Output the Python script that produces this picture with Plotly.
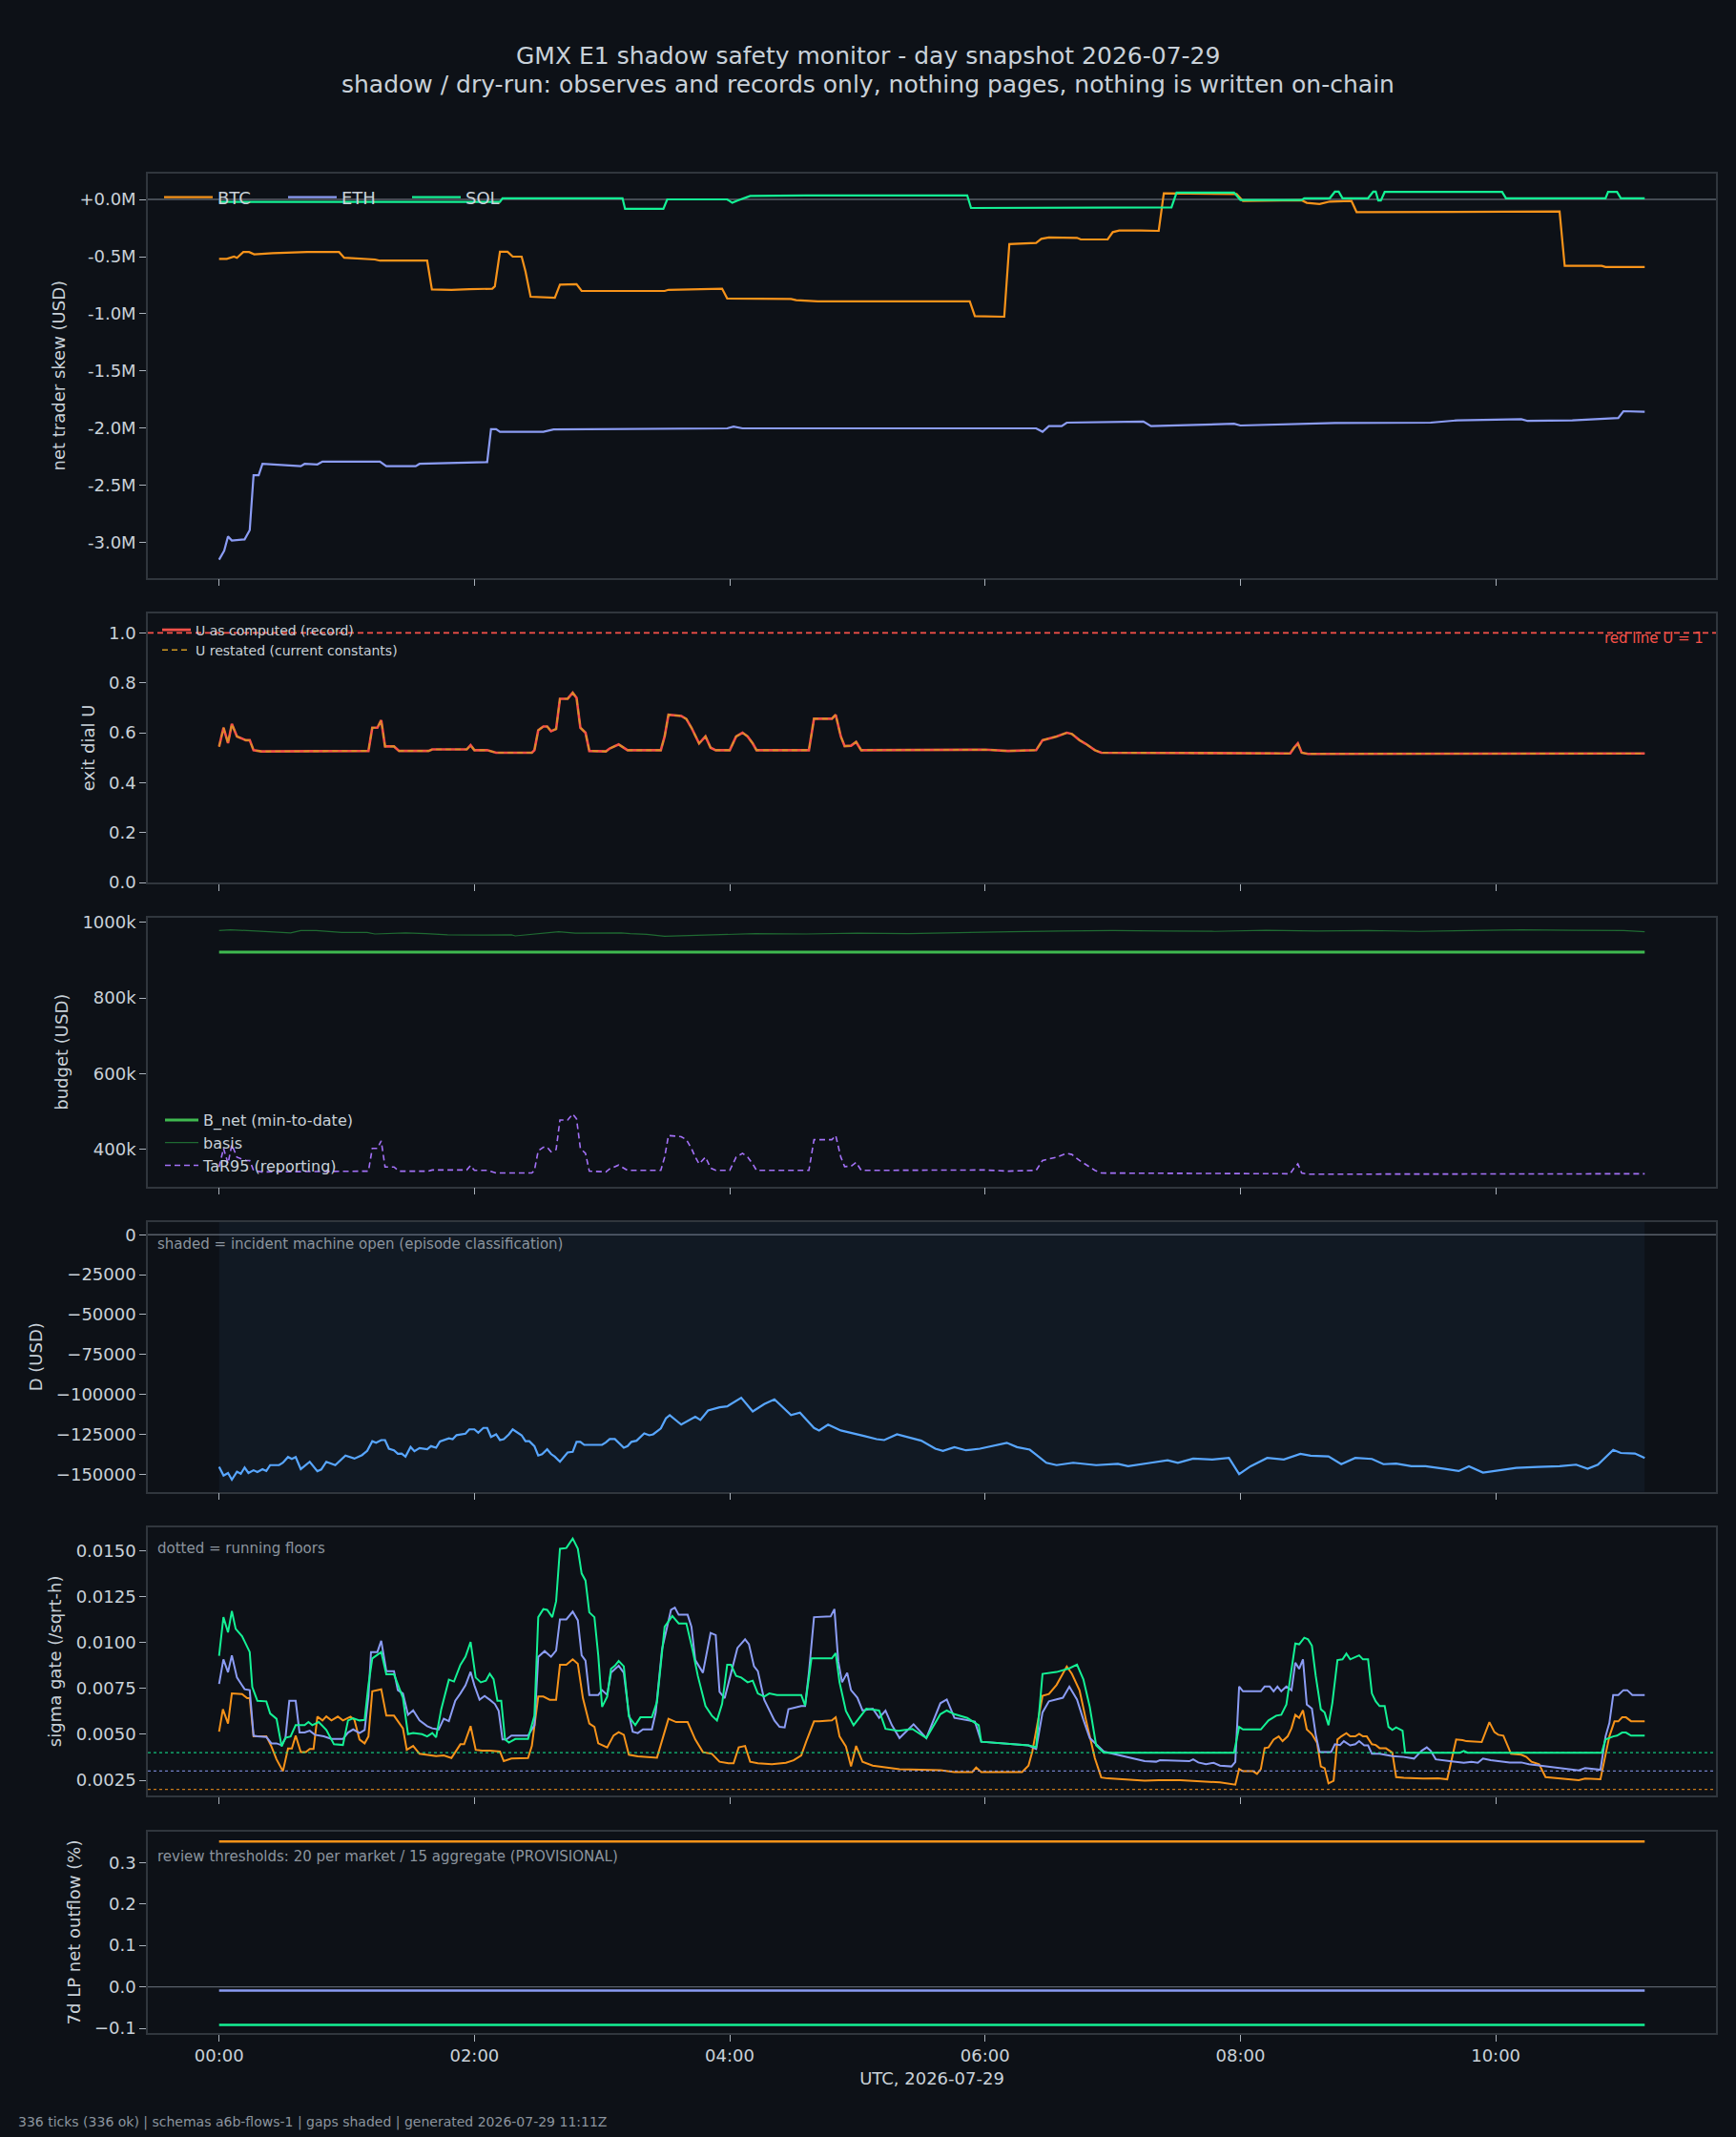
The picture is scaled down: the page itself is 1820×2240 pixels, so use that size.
import plotly.graph_objects as go

# ---------------------------------------------------------------- text
TITLE_1 = "GMX E1 shadow safety monitor - day snapshot 2026-07-29"
TITLE_2 = "shadow / dry-run: observes and records only, nothing pages, nothing is written on-chain"
FOOTER = "336 ticks (336 ok) | schemas a6b-flows-1 | gaps shaded | generated 2026-07-29 11:11Z"
X_TITLE = "UTC, 2026-07-29"
X_TICK_HOURS = [0, 2, 4, 6, 8, 10]
X_TICK_LABELS = ["00:00", "02:00", "04:00", "06:00", "08:00", "10:00"]
RUN_WINDOW_H = [0.0, 11.1667]          # first and last tick (hours UTC)

# ---------------------------------------------------------------- panel 1: net trader skew (USD millions)
SKEW_BTC_T = [0, 0.06, 0.117, 0.14, 0.19, 0.235, 0.275, 0.42, 0.69, 0.94, 0.98, 1.22, 1.26, 1.63, 1.667, 1.82,
              1.96, 2.14, 2.16, 2.20, 2.26, 2.30, 2.37, 2.40, 2.44, 2.55, 2.63, 2.67, 2.80, 2.84, 3.49, 3.52,
              3.94, 3.98, 4.48, 4.52, 4.69, 5.88, 5.92, 6.15, 6.19, 6.40, 6.44, 6.50, 6.72, 6.75, 6.96, 7.0,
              7.05, 7.22, 7.36, 7.40, 7.97, 8.02, 8.20, 8.48, 8.52, 8.62, 8.70, 8.87, 8.91, 9.67, 9.91, 10.50,
              10.54, 10.83, 10.86, 11.1667]
SKEW_BTC_V = [-0.52, -0.52, -0.50, -0.51, -0.46, -0.46, -0.48, -0.47, -0.46, -0.46, -0.51, -0.525, -0.535, -0.535,
              -0.786, -0.79, -0.785, -0.78, -0.76, -0.458, -0.458, -0.50, -0.50, -0.63, -0.85, -0.855, -0.86,
              -0.745, -0.74, -0.80, -0.80, -0.79, -0.78, -0.865, -0.87, -0.88, -0.89, -0.89, -1.02, -1.025,
              -0.39, -0.38, -0.345, -0.333, -0.336, -0.35, -0.35, -0.286, -0.272, -0.272, -0.275, 0.053, 0.047,
              -0.014, -0.014, -0.008, -0.03, -0.04, -0.019, -0.014, -0.111, -0.111, -0.106, -0.106, -0.58, -0.58,
              -0.59, -0.59]
SKEW_ETH_T = [0, 0.04, 0.07, 0.10, 0.20, 0.24, 0.27, 0.31, 0.34, 0.42, 0.64, 0.67, 0.77, 0.81, 1.26, 1.31, 1.54,
              1.57, 2.10, 2.13, 2.17, 2.20, 2.49, 2.54, 2.62, 3.49, 3.98, 4.03, 4.10, 5.30, 6.40, 6.45, 6.50,
              6.60, 6.64, 7.24, 7.30, 7.95, 8.0, 8.74, 9.13, 9.49, 9.70, 10.20, 10.25, 10.60, 10.96, 11.0, 11.1667]
SKEW_ETH_V = [-3.147, -3.07, -2.945, -2.98, -2.97, -2.89, -2.41, -2.41, -2.31, -2.315, -2.33, -2.31, -2.315, -2.29,
              -2.29, -2.33, -2.33, -2.31, -2.295, -2.008, -2.008, -2.03, -2.03, -2.03, -2.01, -2.0, -2.0, -1.985,
              -2.0, -2.0, -2.0, -2.03, -1.98, -1.98, -1.95, -1.94, -1.98, -1.96, -1.975, -1.953, -1.95, -1.95,
              -1.93, -1.92, -1.935, -1.93, -1.91, -1.85, -1.855]
SKEW_SOL_T = [0, 2.20, 2.22, 3.16, 3.18, 3.48, 3.51, 3.98, 4.02, 4.06, 4.16, 4.60, 5.86, 5.89, 7.46, 7.50, 7.95,
              8.0, 8.48, 8.50, 8.70, 8.74, 8.77, 8.80, 9.0, 9.04, 9.06, 9.08, 9.10, 9.13, 10.05, 10.08, 10.86,
              10.88, 10.95, 10.98, 11.1667]
SKEW_SOL_V = [-0.022, -0.022, 0.01, 0.01, -0.083, -0.083, 0.0, 0.0, -0.03, -0.01, 0.03, 0.035, 0.035, -0.075,
              -0.07, 0.06, 0.06, -0.005, -0.005, 0.01, 0.01, 0.067, 0.067, 0.01, 0.01, 0.067, 0.067, -0.01, -0.01,
              0.065, 0.065, 0.01, 0.01, 0.065, 0.065, 0.01, 0.01]
SKEW_TICKS = [0.0, -0.5, -1.0, -1.5, -2.0, -2.5, -3.0]

# ---------------------------------------------------------------- panel 2: exit dial U
U_T = [0.00, 0.035, 0.07, 0.10, 0.14, 0.21, 0.24, 0.27, 0.33, 1.17, 1.20, 1.24, 1.27, 1.30, 1.37, 1.41, 1.64, 1.67,
       1.94, 1.97, 2.00, 2.10, 2.17, 2.45, 2.47, 2.50, 2.54, 2.57, 2.60, 2.64, 2.67, 2.73, 2.77, 2.80, 2.83, 2.87,
       2.90, 3.03, 3.06, 3.13, 3.20, 3.46, 3.49, 3.52, 3.62, 3.66, 3.70, 3.73, 3.76, 3.81, 3.85, 3.89, 4.00, 4.05,
       4.10, 4.14, 4.18, 4.21, 4.62, 4.66, 4.80, 4.83, 4.87, 4.90, 4.95, 4.99, 5.03, 6.00, 6.18, 6.40, 6.45, 6.56,
       6.64, 6.68, 6.74, 6.79, 6.86, 6.91, 8.39, 8.42, 8.45, 8.48, 8.53, 11.1667]
U_RECORD = [0.544, 0.62, 0.558, 0.635, 0.585, 0.57, 0.57, 0.53, 0.525, 0.527, 0.62, 0.62, 0.65, 0.545, 0.545, 0.527,
            0.527, 0.533, 0.533, 0.55, 0.53, 0.53, 0.52, 0.52, 0.53, 0.61, 0.625, 0.625, 0.606, 0.615, 0.736,
            0.736, 0.76, 0.74, 0.62, 0.60, 0.527, 0.525, 0.537, 0.553, 0.53, 0.53, 0.585, 0.672, 0.667, 0.655,
            0.62, 0.585, 0.557, 0.585, 0.54, 0.53, 0.53, 0.585, 0.60, 0.585, 0.557, 0.53, 0.53, 0.656, 0.656,
            0.672, 0.585, 0.546, 0.548, 0.563, 0.53, 0.532, 0.527, 0.53, 0.57, 0.585, 0.60, 0.595, 0.57, 0.555,
            0.53, 0.52, 0.517, 0.54, 0.557, 0.52, 0.515, 0.517]
U_RESTATED = list(U_RECORD)   # restated series coincides with the record on this day
U_RED_LINE = 1.0

# ---------------------------------------------------------------- panel 3: budget (USD thousands)
BNET_T = [0.0, 11.1667]
BNET_V = [921, 921]
BASIS_T = [0, 0.09, 0.29, 0.56, 0.64, 0.76, 0.96, 1.16, 1.22, 1.46, 1.62, 1.79, 2.06, 2.29, 2.32, 2.45, 2.52, 2.66,
           2.79, 2.95, 3.15, 3.22, 3.35, 3.49, 3.8, 4.2, 4.6, 5.0, 5.4, 5.8, 6.2, 6.6, 7.0, 7.4, 7.8, 8.2, 8.6, 9.0,
           9.4, 9.8, 10.2, 10.6, 11.0, 11.1667]
BASIS_V = [978, 980, 977, 972, 978, 978, 973, 973, 969, 972, 970, 967, 966, 967, 964, 968, 971, 975, 971, 971, 972,
           970, 968, 963, 966, 970, 969, 971, 970, 973, 975, 977, 978, 977, 976, 979, 977, 978, 976, 978, 980, 979,
           978, 975]
TAR_T = list(U_T)
TAR_V = [354, 403, 363, 413, 380, 371, 371, 345, 341, 343, 403, 403, 423, 354, 354, 343, 343, 346, 346, 358, 345, 345,
         338, 338, 345, 397, 406, 406, 394, 400, 478, 478, 494, 481, 403, 390, 343, 341, 349, 359, 345, 345, 380,
         437, 434, 426, 403, 380, 362, 380, 351, 345, 345, 380, 390, 380, 362, 345, 345, 426, 426, 437, 380, 355,
         356, 366, 345, 346, 343, 345, 371, 380, 390, 387, 371, 361, 345, 338, 336, 351, 362, 338, 335, 336]
BUDGET_TICKS = [400, 600, 800, 1000]

# ---------------------------------------------------------------- panel 4: D (USD thousands)
D_T = [0, 0.035, 0.07, 0.10, 0.14, 0.17, 0.20, 0.23, 0.27, 0.30, 0.34, 0.37, 0.40, 0.47, 0.50, 0.54, 0.57, 0.60,
       0.64, 0.71, 0.77, 0.80, 0.84, 0.91, 0.99, 1.06, 1.12, 1.16, 1.20, 1.23, 1.27, 1.30, 1.33, 1.37, 1.40, 1.43,
       1.46, 1.50, 1.53, 1.57, 1.63, 1.66, 1.70, 1.73, 1.80, 1.83, 1.86, 1.93, 1.96, 2.00, 2.03, 2.07, 2.10, 2.13,
       2.17, 2.20, 2.23, 2.27, 2.30, 2.37, 2.40, 2.43, 2.47, 2.50, 2.53, 2.57, 2.60, 2.63, 2.67, 2.70, 2.73, 2.77,
       2.80, 2.83, 2.86, 2.90, 3.00, 3.03, 3.06, 3.10, 3.17, 3.20, 3.23, 3.27, 3.33, 3.37, 3.40, 3.46, 3.50, 3.53,
       3.62, 3.73, 3.77, 3.83, 3.92, 3.98, 4.09, 4.18, 4.27, 4.35, 4.44, 4.48, 4.55, 4.66, 4.70, 4.77, 4.87, 4.95,
       5.05, 5.15, 5.21, 5.31, 5.44, 5.50, 5.61, 5.67, 5.76, 5.85, 5.96, 6.05, 6.17, 6.25, 6.35, 6.48, 6.56, 6.69,
       6.87, 7.04, 7.12, 7.30, 7.43, 7.51, 7.63, 7.78, 7.91, 7.99, 8.08, 8.21, 8.34, 8.47, 8.55, 8.69, 8.79, 8.90,
       9.03, 9.12, 9.22, 9.34, 9.45, 9.60, 9.71, 9.79, 9.90, 10.03, 10.16, 10.33, 10.50, 10.63, 10.72, 10.80,
       10.92, 10.98, 11.09, 11.1667]
D_V = [-145.4, -150.8, -149.2, -153.4, -148.4, -149.7, -145.8, -149.2, -147.5, -148.6, -146.8, -148.0, -144.3,
       -144.3, -142.8, -139.2, -140.4, -139.2, -146.8, -142.2, -148.1, -147.0, -142.2, -144.3, -138.3, -140.2,
       -138.0, -135.4, -129.3, -130.3, -128.6, -128.6, -134.0, -135.0, -137.2, -137.0, -139.0, -132.9, -135.6,
       -133.6, -134.4, -132.4, -133.4, -129.5, -127.5, -128.0, -125.5, -124.6, -121.9, -121.9, -124.0, -121.0,
       -121.0, -126.6, -125.0, -128.6, -128.0, -125.0, -121.9, -125.6, -129.3, -129.3, -132.4, -138.3, -137.5,
       -134.4, -137.3, -139.0, -142.2, -139.2, -136.4, -136.0, -129.7, -129.7, -131.6, -131.6, -131.6, -130.0,
       -128.0, -128.0, -133.4, -132.4, -129.7, -129.0, -124.4, -125.6, -125.0, -121.3, -115.0, -113.0, -118.9,
       -114.0, -116.0, -110.1, -108.1, -107.5, -102.1, -110.7, -106.1, -103.1, -110.0, -113.0, -111.4, -121.0,
       -122.6, -118.9, -122.6, -124.0, -126.0, -128.0, -128.6, -125.0, -128.0, -129.0, -134.0, -135.4, -133.0,
       -135.0, -134.0, -132.6, -130.3, -133.0, -134.6, -142.8, -144.3, -142.8, -144.3, -143.5, -145.0, -142.8,
       -141.2, -142.8, -140.2, -140.8, -139.8, -149.9, -145.0, -139.8, -140.8, -137.2, -138.4, -138.8, -143.7,
       -139.8, -140.4, -143.7, -143.3, -145.0, -145.0, -146.6, -148.0, -145.0, -149.0, -147.5, -146.0, -145.4,
       -145.0, -144.0, -146.6, -144.0, -134.8, -136.7, -137.0, -139.8]
D_TICKS = [0, -25000, -50000, -75000, -100000, -125000, -150000]

# ---------------------------------------------------------------- panel 5: sigma gate (x1e-3 /sqrt-h)
SIG_BTC_T = [0, 0.03, 0.07, 0.10, 0.18, 0.22, 0.24, 0.27, 0.37, 0.41, 0.45, 0.50, 0.54, 0.57, 0.60, 0.64, 0.68, 0.71,
             0.74, 0.77, 0.81, 0.84, 0.88, 0.93, 0.97, 1.03, 1.06, 1.10, 1.14, 1.17, 1.20, 1.27, 1.31, 1.37, 1.44,
             1.47, 1.52, 1.57, 1.70, 1.76, 1.82, 1.89, 1.92, 1.97, 2.01, 2.06, 2.12, 2.20, 2.23, 2.29, 2.42, 2.45,
             2.50, 2.54, 2.59, 2.64, 2.67, 2.72, 2.77, 2.81, 2.85, 2.90, 2.94, 2.97, 3.04, 3.09, 3.13, 3.17, 3.21,
             3.28, 3.43, 3.47, 3.52, 3.58, 3.67, 3.73, 3.79, 3.86, 3.92, 3.99, 4.03, 4.07, 4.12, 4.16, 4.22, 4.33,
             4.44, 4.50, 4.56, 4.60, 4.66, 4.70, 4.80, 4.83, 4.86, 4.91, 4.95, 4.99, 5.04, 5.12, 5.22, 5.33, 5.65,
             5.76, 5.90, 5.93, 5.97, 6.29, 6.34, 6.37, 6.45, 6.50, 6.56, 6.64, 6.68, 6.74, 6.79, 6.86, 6.91, 6.96,
             7.25, 7.36, 7.53, 7.84, 7.96, 7.99, 8.02, 8.10, 8.13, 8.16, 8.19, 8.22, 8.26, 8.30, 8.33, 8.37, 8.40,
             8.43, 8.46, 8.49, 8.52, 8.56, 8.60, 8.63, 8.66, 8.69, 8.73, 8.76, 8.79, 8.83, 8.86, 8.90, 8.93, 8.96,
             8.99, 9.03, 9.06, 9.09, 9.14, 9.19, 9.22, 9.28, 9.43, 9.55, 9.62, 9.69, 9.74, 9.77, 9.89, 9.93, 9.95,
             9.99, 10.02, 10.06, 10.12, 10.20, 10.24, 10.28, 10.34, 10.39, 10.49, 10.65, 10.70, 10.82, 10.89, 10.93,
             10.96, 10.99, 11.02, 11.06, 11.1667]
SIG_BTC_V = [5.15, 6.37, 5.59, 7.23, 7.2, 6.97, 6.97, 4.89, 4.89, 4.34, 3.64, 2.99, 4.23, 4.23, 4.93, 4.03, 4.03, 4.2,
             4.2, 5.97, 5.76, 5.98, 5.76, 5.97, 5.76, 5.97, 5.79, 4.72, 4.51, 4.89, 7.35, 7.46, 6.02, 6.02, 5.33,
             4.16, 4.37, 3.94, 3.82, 3.85, 3.71, 4.46, 4.46, 5.45, 4.16, 4.11, 4.11, 4.06, 3.54, 3.68, 3.71, 4.37,
             7.06, 7.06, 6.89, 6.89, 8.79, 8.79, 9.09, 8.85, 6.97, 5.59, 5.41, 4.51, 4.29, 4.94, 5.12, 4.98, 3.89,
             3.8, 3.73, 4.72, 5.85, 5.67, 5.67, 4.72, 4.03, 3.94, 3.51, 3.42, 3.42, 4.29, 4.37, 3.51, 3.42, 3.37,
             3.45, 3.59, 3.85, 4.63, 5.71, 5.71, 5.76, 5.93, 4.89, 4.34, 3.25, 4.37, 3.5, 3.3, 3.2, 3.1, 3.05,
             2.95, 2.95, 3.2, 2.95, 2.95, 3.3, 4.06, 7.1, 7.2, 7.7, 8.7, 8.3, 7.4, 5.8, 3.7, 2.65, 2.6,
             2.47, 2.5, 2.5, 2.38, 2.26, 3.11, 2.99, 2.99, 2.85, 3.11, 4.25, 4.29, 4.72, 4.89, 4.63, 4.89, 5.33,
             6.07, 5.9, 6.31, 5.27, 5.01, 4.55, 3.25, 3.16, 2.33, 2.47, 4.72, 4.89, 5.07, 4.89, 4.89, 5.03, 4.89,
             4.89, 4.46, 4.42, 4.25, 4.24, 4.0, 2.67, 2.63, 2.59, 2.6, 2.55, 4.72, 4.69, 4.63, 4.58, 5.24, 5.67,
             5.12, 4.98, 4.93, 3.94, 3.89, 3.77, 3.51, 3.37, 2.67, 2.59, 2.5, 2.59, 2.55, 4.89, 5.71,
             5.71, 5.93, 5.93, 5.72, 5.72]
SIG_ETH_T = [0, 0.034, 0.07, 0.10, 0.14, 0.20, 0.24, 0.27, 0.30, 0.37, 0.41, 0.45, 0.49, 0.52, 0.55, 0.60, 0.63, 0.67,
             0.71, 0.75, 0.82, 0.88, 0.97, 1.01, 1.05, 1.10, 1.14, 1.17, 1.19, 1.24, 1.27, 1.31, 1.37, 1.40, 1.44,
             1.48, 1.52, 1.57, 1.63, 1.67, 1.72, 1.76, 1.80, 1.85, 1.89, 1.93, 1.97, 2.0, 2.04, 2.08, 2.12, 2.16,
             2.19, 2.22, 2.25, 2.29, 2.42, 2.47, 2.50, 2.55, 2.60, 2.64, 2.67, 2.72, 2.77, 2.81, 2.84, 2.87, 2.90,
             2.97, 3.0, 3.04, 3.07, 3.10, 3.13, 3.17, 3.21, 3.24, 3.28, 3.32, 3.39, 3.42, 3.47, 3.54, 3.57, 3.60,
             3.67, 3.70, 3.73, 3.79, 3.85, 3.89, 3.92, 3.96, 4.03, 4.06, 4.12, 4.15, 4.19, 4.22, 4.27, 4.31, 4.35,
             4.39, 4.43, 4.46, 4.52, 4.56, 4.59, 4.62, 4.66, 4.73, 4.79, 4.82, 4.85, 4.88, 4.92, 4.95, 5.0, 5.04,
             5.12, 5.17, 5.22, 5.27, 5.33, 5.44, 5.54, 5.65, 5.70, 5.76, 5.92, 5.97, 6.34, 6.40, 6.45, 6.50, 6.61,
             6.66, 6.72, 6.77, 6.82, 6.88, 6.93, 7.25, 7.34, 7.37, 7.60, 7.63, 7.67, 7.73, 7.79, 7.84, 7.93, 7.96,
             7.99, 8.02, 8.16, 8.19, 8.23, 8.26, 8.29, 8.32, 8.36, 8.40, 8.43, 8.46, 8.49, 8.52, 8.56, 8.59, 8.62,
             8.71, 8.74, 8.78, 8.81, 8.86, 8.90, 8.93, 8.97, 9.0, 9.03, 9.09, 9.19, 9.28, 9.36, 9.42, 9.46, 9.49,
             9.53, 9.64, 9.75, 9.81, 9.86, 9.90, 9.96, 10.11, 10.20, 10.26, 10.37, 10.52, 10.65, 10.70, 10.82,
             10.86, 10.89, 10.92, 10.96, 11.0, 11.03, 11.07, 11.1667]
SIG_ETH_V = [7.75, 9.09, 8.39, 9.31, 8.10, 7.46, 7.41, 4.93, 4.89, 4.86, 4.51, 4.51, 4.41, 4.81, 6.83, 6.83, 5.1, 5.1,
             5.2, 4.98, 4.89, 4.75, 4.75, 5.1, 5.27, 5.07, 5.24, 7.06, 9.49, 9.49, 10.1, 8.45, 8.45, 7.41, 7.23,
             6.07, 6.31, 5.76, 5.45, 5.33, 5.27, 5.85, 5.72, 6.83, 7.23, 7.67, 8.41, 7.67, 6.89, 7.09, 6.89, 6.66,
             6.28, 4.72, 4.72, 4.93, 4.93, 5.5, 9.23, 9.54, 9.23, 9.57, 11.27, 11.27, 11.69, 11.22, 9.31, 9.02, 7.15,
             7.15, 7.41, 7.15, 8.36, 8.57, 8.74, 8.36, 6.11, 5.15, 5.07, 5.27, 5.27, 6.19, 9.66, 11.79, 11.91, 11.52,
             11.52, 10.87, 9.05, 8.36, 10.53, 10.41, 7.32, 6.97, 8.97, 9.71, 10.18, 9.92, 8.71, 8.45, 6.89, 6.28,
             5.76, 5.41, 5.38, 6.37, 6.45, 6.54, 6.54, 8.36, 11.39, 11.43, 11.43, 11.83, 8.97, 7.84, 8.36, 7.41, 7.0,
             6.3, 6.4, 5.9, 6.3, 5.5, 4.8, 5.55, 4.8, 6.7, 6.9, 5.9, 5.7, 4.6, 4.4, 4.2, 6.2, 6.8, 7.0,
             7.6, 6.9, 5.8, 4.8, 4.4, 4.06, 3.54, 3.51, 3.59, 3.54, 3.64, 3.47, 3.37, 3.45, 3.3, 3.25, 3.5,
             7.61, 7.35, 7.35, 7.61, 7.61, 7.35, 7.61, 7.35, 7.61, 7.41, 8.91, 8.57, 9.09, 6.63, 6.4, 4.98, 4.03,
             4.03, 4.46, 4.42, 4.63, 4.4, 4.46, 4.63, 4.4, 4.4, 3.94, 3.94, 3.82, 3.77, 3.68, 4.11, 4.29, 4.11,
             3.64, 3.54, 3.45, 3.5, 3.45, 3.68, 3.59, 3.47, 3.47, 3.37, 3.28, 3.12, 3.04, 3.16, 3.07,
             4.89, 5.62, 7.15, 7.15, 7.41, 7.41, 7.15, 7.15]
SIG_SOL_T = [0, 0.034, 0.07, 0.10, 0.13, 0.18, 0.24, 0.26, 0.30, 0.37, 0.40, 0.45, 0.49, 0.52, 0.56, 0.60, 0.67, 0.70,
             0.73, 0.78, 0.84, 0.90, 0.97, 1.01, 1.05, 1.10, 1.14, 1.17, 1.20, 1.27, 1.31, 1.37, 1.44, 1.48, 1.52,
             1.59, 1.63, 1.67, 1.70, 1.74, 1.80, 1.84, 1.89, 1.93, 1.97, 2.01, 2.05, 2.09, 2.12, 2.15, 2.18, 2.21,
             2.24, 2.27, 2.32, 2.42, 2.47, 2.50, 2.54, 2.57, 2.61, 2.64, 2.67, 2.72, 2.77, 2.81, 2.84, 2.87, 2.90,
             2.94, 2.97, 3.00, 3.04, 3.07, 3.10, 3.13, 3.17, 3.21, 3.26, 3.30, 3.39, 3.43, 3.49, 3.55, 3.60, 3.66,
             3.71, 3.75, 3.81, 3.86, 3.90, 3.94, 3.98, 4.01, 4.05, 4.09, 4.14, 4.18, 4.22, 4.27, 4.31, 4.37, 4.56,
             4.59, 4.64, 4.80, 4.83, 4.86, 4.91, 4.97, 5.07, 5.17, 5.22, 5.32, 5.43, 5.54, 5.65, 5.70, 5.76, 5.86,
             5.95, 5.97, 6.34, 6.40, 6.45, 6.56, 6.66, 6.72, 6.77, 6.82, 6.87, 6.93, 7.95, 7.99, 8.02, 8.16, 8.22,
             8.28, 8.32, 8.36, 8.43, 8.46, 8.50, 8.53, 8.56, 8.59, 8.63, 8.66, 8.69, 8.72, 8.76, 8.80, 8.83, 8.86,
             8.93, 8.96, 9.0, 9.03, 9.06, 9.09, 9.13, 9.16, 9.19, 9.22, 9.27, 9.29, 9.72, 9.75, 9.78, 10.83, 10.86,
             10.92, 10.95, 10.99, 11.02, 11.06, 11.1667]
SIG_SOL_V = [9.28, 11.39, 10.56, 11.72, 10.75, 10.35, 9.49, 7.58, 6.83, 6.80, 6.14, 5.85, 4.34, 4.81, 4.89, 5.50,
             5.50, 5.67, 5.50, 5.67, 5.24, 4.46, 4.42, 5.76, 5.88, 5.76, 5.79, 7.70, 9.14, 9.49, 8.27, 8.27, 7.0,
             5.01, 5.07, 5.01, 4.89, 5.07, 4.84, 6.37, 7.98, 7.88, 8.79, 9.23, 10.04, 8.10, 7.84, 7.93, 8.31, 8.01,
             6.83, 6.83, 4.72, 4.55, 4.75, 4.75, 6.02, 11.39, 11.83, 11.79, 11.39, 12.26, 15.12, 15.16, 15.68, 15.12,
             13.77, 13.39, 11.65, 11.39, 9.31, 6.50, 7.06, 8.57, 8.74, 9.0, 8.71, 5.97, 5.50, 5.93, 5.93, 6.77,
             10.87, 11.45, 11.05, 11.05, 9.57, 8.19, 6.54, 6.02, 5.76, 6.66, 8.79, 8.79, 8.19, 8.10, 7.84, 7.93,
             7.23, 7.06, 7.23, 7.15, 7.15, 6.57, 9.14, 9.14, 9.43, 7.84, 6.28, 5.50, 6.4, 6.3, 5.3, 5.2, 5.3,
             4.8, 6.1, 6.3, 6.1, 5.9, 5.5, 4.6, 4.4, 4.3, 8.3, 8.4, 8.6, 8.8, 8.0, 6.5, 4.4, 4.0, 4.0, 5.41,
             5.27, 5.27, 5.76, 6.02, 6.07, 6.63, 9.95, 9.91, 10.27, 10.18, 9.83, 8.19, 6.37, 6.19, 5.5, 6.71, 9.05,
             9.09, 9.4, 9.09, 9.31, 9.09, 9.09, 7.23, 6.8, 6.54, 6.54, 5.41, 5.24, 5.38, 5.2, 4.0, 4.0, 4.1, 4.0,
             4.0, 4.72, 4.89, 4.93, 5.1, 5.1, 4.93, 4.93]
SIG_FLOORS = [2.0, 3.0, 4.0]     # running floors BTC, ETH, SOL (x1e-3)
SIG_TICKS = [2.5, 5.0, 7.5, 10.0, 12.5, 15.0]

# ---------------------------------------------------------------- panel 6: 7d LP net outflow (%)
LP_OUTFLOW = [0.351, -0.009, -0.092]   # BTC, ETH, SOL, flat over the window
LP_TICKS = [-0.1, 0.0, 0.1, 0.2, 0.3]

MARKETS = ["BTC", "ETH", "SOL"]

# ---------------------------------------------------------------- style
BG = "#0d1117"
SPINE = "#30363d"
TEXT = "#c9d1d9"
MUTED = "#8b949e"
ZERO = "#59606a"
C_BTC = "#f7931a"
C_ETH = "#8b9cf4"
C_SOL = "#14f195"
MCOL = [C_BTC, C_ETH, C_SOL]
FONT = "DejaVu Sans"

W, H = 1820, 2240
ML, MR, MT, MB = 155, 21, 181, 109
PH = H - MT - MB
PW = W - ML - MR


def ydom(top_px, bottom_px):
    return [(H - MB - bottom_px) / PH, min(1.0, (H - MB - top_px) / PH)]


def xp(px):
    return (px - ML) / PW


def yp(py):
    return (H - MB - py) / PH


PANELS = [(181.7, 605.7), (642.7, 925.0), (961.7, 1243.7), (1280.7, 1563.7), (1600.7, 1882.0), (1920.0, 2131.0)]
XRANGE = [-0.558, 11.725]

fig = go.Figure()

# panel 1
for name, t, v, c in zip(MARKETS, [SKEW_BTC_T, SKEW_ETH_T, SKEW_SOL_T], [SKEW_BTC_V, SKEW_ETH_V, SKEW_SOL_V], MCOL):
    fig.add_trace(go.Scatter(x=t, y=v, mode="lines", name=name, line=dict(color=c, width=2.2),
                             xaxis="x", yaxis="y", legend="legend"))

# panel 2
fig.add_trace(go.Scatter(x=U_T, y=U_RECORD, mode="lines", name="U as computed (record)",
                         line=dict(color="#f85149", width=2.6), xaxis="x2", yaxis="y2", legend="legend2"))
fig.add_trace(go.Scatter(x=U_T, y=U_RESTATED, mode="lines", name="U restated (current constants)",
                         line=dict(color="#d29922", width=1.6, dash="6px,4px"), xaxis="x2", yaxis="y2",
                         legend="legend2"))

# panel 3
fig.add_trace(go.Scatter(x=BNET_T, y=BNET_V, mode="lines", name="B_net (min-to-date)",
                         line=dict(color="#3fb950", width=3), xaxis="x3", yaxis="y3", legend="legend3"))
fig.add_trace(go.Scatter(x=BASIS_T, y=BASIS_V, mode="lines", name="basis",
                         line=dict(color="#1f6a32", width=1.2), xaxis="x3", yaxis="y3", legend="legend3"))
fig.add_trace(go.Scatter(x=TAR_T, y=TAR_V, mode="lines", name="TaR95 (reporting)",
                         line=dict(color="#a371f7", width=1.6, dash="6px,4px"), xaxis="x3", yaxis="y3",
                         legend="legend3"))

# panel 4
fig.add_trace(go.Scatter(x=D_T, y=[v * 1000 for v in D_V], mode="lines", showlegend=False,
                         line=dict(color="#58a6ff", width=2.2), xaxis="x4", yaxis="y4"))

# panel 5
for t, v, c in zip([SIG_BTC_T, SIG_ETH_T, SIG_SOL_T], [SIG_BTC_V, SIG_ETH_V, SIG_SOL_V], MCOL):
    fig.add_trace(go.Scatter(x=t, y=[a / 1000 for a in v], mode="lines", showlegend=False,
                             line=dict(color=c, width=2.0), xaxis="x5", yaxis="y5"))

# panel 6
for val, c in zip(LP_OUTFLOW, MCOL):
    fig.add_trace(go.Scatter(x=RUN_WINDOW_H, y=[val, val], mode="lines", showlegend=False,
                             line=dict(color=c, width=2.4), xaxis="x6", yaxis="y6"))

shapes = []
# zero lines
for ax in ["y", "y4", "y6"]:
    shapes.append(dict(type="line", xref=("x" if ax == "y" else "x" + ax[1:]) + " domain", x0=0, x1=1,
                       yref=ax, y0=0, y1=0, line=dict(color=ZERO, width=1.3), layer="below"))
# red line U = 1
shapes.append(dict(type="line", xref="x2 domain", x0=0, x1=1, yref="y2", y0=U_RED_LINE, y1=U_RED_LINE,
                   line=dict(color="#f85149", width=1.8, dash="6px,4px")))
# incident shading
shapes.append(dict(type="rect", xref="x4", x0=RUN_WINDOW_H[0], x1=RUN_WINDOW_H[1], yref="y4 domain", y0=0, y1=1,
                   fillcolor="rgba(88,166,255,0.055)", line=dict(width=0), layer="below"))
# running floors
for f, c in zip(SIG_FLOORS, MCOL):
    shapes.append(dict(type="line", xref="x5 domain", x0=0, x1=1, yref="y5", y0=f / 1000, y1=f / 1000,
                       line=dict(color=c, width=1.2, dash="dot"), opacity=0.8))

annotations = [
    dict(text=TITLE_1, x=xp(910), y=yp(58), xref="paper", yref="paper", showarrow=False,
         font=dict(size=25, color=TEXT), xanchor="center", yanchor="middle"),
    dict(text=TITLE_2, x=xp(910), y=yp(89), xref="paper", yref="paper", showarrow=False,
         font=dict(size=25, color=TEXT), xanchor="center", yanchor="middle"),
    dict(text="red line U = 1", x=xp(1788), y=yp(669), xref="paper", yref="paper", showarrow=False,
         font=dict(size=15, color="#f85149"), xanchor="right", yanchor="middle"),
    dict(text="shaded = incident machine open (episode classification)", x=xp(163), y=yp(1304), xref="paper",
         yref="paper", showarrow=False, font=dict(size=15, color=MUTED), xanchor="left", yanchor="middle"),
    dict(text="dotted = running floors", x=xp(163), y=yp(1623), xref="paper", yref="paper", showarrow=False,
         font=dict(size=15, color=MUTED), xanchor="left", yanchor="middle"),
    dict(text="review thresholds: 20 per market / 15 aggregate (PROVISIONAL)", x=xp(163), y=yp(1946),
         xref="paper", yref="paper", showarrow=False, font=dict(size=15, color=MUTED), xanchor="left",
         yanchor="middle"),
    dict(text=FOOTER, x=xp(17), y=yp(2224), xref="paper", yref="paper", showarrow=False,
         font=dict(size=14, color=MUTED), xanchor="left", yanchor="middle"),
]


def fmt_minus(s):
    return s.replace("-", "\u2212")


axis_base = dict(showline=True, mirror=True, linecolor=SPINE, linewidth=1.5, ticks="outside", ticklen=7,
                 tickwidth=1.2, tickcolor="#aab2bb", showgrid=False, zeroline=False,
                 tickfont=dict(size=18, color=TEXT, family=FONT))

y_specs = [
    dict(title="net trader skew (USD)", range=[-3.306, 0.2275], tickvals=SKEW_TICKS,
         ticktext=[f"{v:+.1f}M" for v in SKEW_TICKS]),
    dict(title="exit dial U", range=[0, 1.079], tickvals=[0, 0.2, 0.4, 0.6, 0.8, 1.0],
         ticktext=[f"{v:.1f}" for v in [0, 0.2, 0.4, 0.6, 0.8, 1.0]]),
    dict(title="budget (USD)", range=[302.4, 1012.6], tickvals=BUDGET_TICKS,
         ticktext=[f"{v}k" for v in BUDGET_TICKS]),
    dict(title="D (USD)", range=[-161000, 8100], tickvals=D_TICKS, ticktext=[fmt_minus(str(v)) for v in D_TICKS]),
    dict(title="sigma gate (/sqrt-h)", range=[0.00167, 0.0163], tickvals=[v / 1000 for v in SIG_TICKS],
         ticktext=[f"{v / 1000:.4f}" for v in SIG_TICKS]),
    dict(title="7d LP net outflow (%)", range=[-0.1115, 0.3745], tickvals=LP_TICKS,
         ticktext=[fmt_minus(f"{v:.1f}") for v in LP_TICKS]),
]

layout = dict(
    width=W, height=H, paper_bgcolor=BG, plot_bgcolor=BG,
    margin=dict(l=ML, r=MR, t=MT, b=MB, autoexpand=False),
    font=dict(family=FONT, color=TEXT, size=16),
    shapes=shapes, annotations=annotations, hovermode=False,
    legend=dict(orientation="h", x=xp(167), y=yp(207), xanchor="left", yanchor="middle", bgcolor="rgba(0,0,0,0)",
                borderwidth=0, font=dict(size=18, color=TEXT), itemwidth=51, entrywidth=64,
                entrywidthmode="pixels"),
    legend2=dict(orientation="v", x=xp(165), y=yp(671), xanchor="left", yanchor="middle",
                 bgcolor="rgba(0,0,0,0)", borderwidth=0, font=dict(size=14, color=TEXT), itemwidth=30,
                 tracegroupgap=0),
    legend3=dict(orientation="v", x=xp(168), y=yp(1198), xanchor="left", yanchor="middle",
                 bgcolor="rgba(0,0,0,0)", borderwidth=0, font=dict(size=16, color=TEXT), itemwidth=35,
                 tracegroupgap=0),
)

for i, (spec, (top, bot)) in enumerate(zip(y_specs, PANELS), start=1):
    sfx = "" if i == 1 else str(i)
    xa = dict(axis_base, domain=[0, 1], anchor="y" + sfx, range=XRANGE, tickvals=X_TICK_HOURS,
              ticktext=X_TICK_LABELS, showticklabels=(i == 6))
    if i > 1:
        xa["matches"] = "x"
    if i == 6:
        xa["title"] = dict(text=X_TITLE, font=dict(size=18, color=TEXT), standoff=8)
    ya = dict(axis_base, domain=ydom(top, bot), anchor="x" + sfx, range=spec["range"], tickvals=spec["tickvals"],
              ticktext=spec["ticktext"], title=dict(text=spec["title"], font=dict(size=18, color=TEXT), standoff=10))
    layout["xaxis" + sfx] = xa
    layout["yaxis" + sfx] = ya

fig.update_layout(**layout)
fig.write_html("out.html")
